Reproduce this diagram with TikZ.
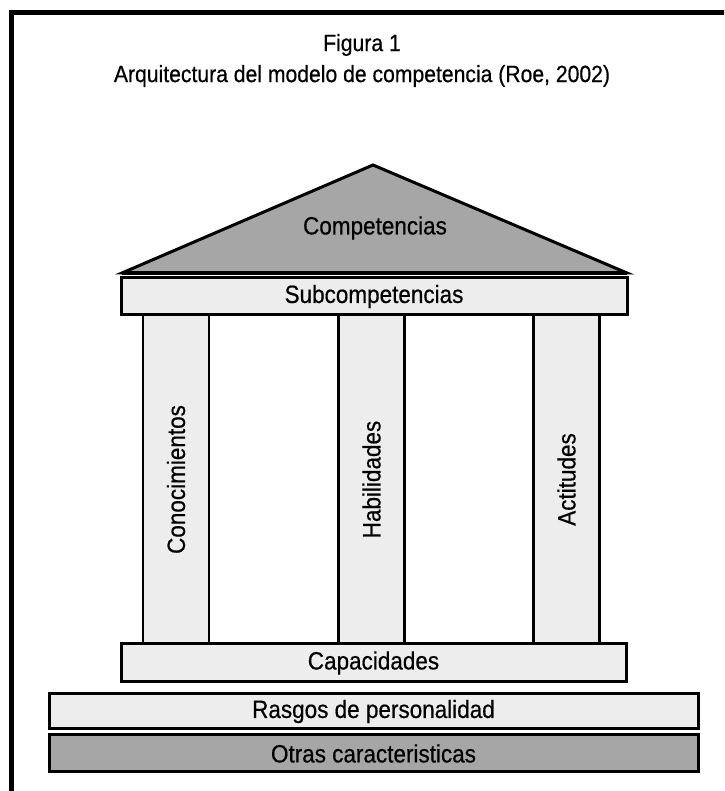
\documentclass[tikz,border=0pt]{standalone}
\usepackage{fontspec}
\setmainfont{Liberation Sans}[FakeStretch=0.9,FakeBold=0.5]
\usetikzlibrary{positioning}
\definecolor{claro}{HTML}{EDEDED}
\definecolor{oscuro}{HTML}{A6A6A6}
\tikzset{
    %Define style for the horizontal bars
    barra/.style={
           rectangle,
           draw=black, line width=3pt,
           fill=claro,
           inner sep=0pt,
           font=\fontsize{25}{27}\selectfont},
    %Define style for the columns (rotated)
    columna/.style={
           rectangle,
           rotate=90,
           draw=black, line width=2.5pt,
           fill=claro,
           inner sep=0pt,
           minimum width=329pt,
           minimum height=66pt,
           font=\fontsize{25}{27}\selectfont},
    % Define roof style
    techo/.style={
           draw=black,
           line width=3pt,
           line join=miter,
           fill=oscuro}
}

\begin{document}
\begin{tikzpicture}[x=1pt,y=1pt,font=\fontsize{25}{27}\selectfont]
 \useasboundingbox (0,0) rectangle (724,791);
 \clip (0,0) rectangle (724,791);
 %Frame
 \draw[line width=5pt] (11,-30) rectangle (760,778);

 %Title
 \node[font=\fontsize{23.5}{26}\selectfont] (fig) at (362,746) {Figura 1};
 \node[font=\fontsize{23.5}{26}\selectfont] (titulo) at (362,715) {Arquitectura del modelo de competencia (Roe, 2002)};

 %Roof
 \coordinate (izq) at (122,518);
 \coordinate (cima) at (373,626);
 \coordinate (der) at (627,518);
 \draw[techo] (izq) -- (cima) -- (der) -- cycle;
 \draw[line width=4pt] (izq) -- (der);
 \node (comp) at (375,563) {Competencias};

 %Temple
 \node[barra,minimum width=506pt,minimum height=37pt] (sub) at (374,494.5) {Subcompetencias};
 \node[columna] (con) at (176,311.5) {Conocimientos};
 \node[columna] (hab) at (371.5,311.5) {Habilidades};
 \node[columna] (act) at (566.5,311.5) {Actitudes};
 \node[barra,minimum width=505pt,minimum height=38pt] (cap) at (373.5,128) {Capacidades};

 %Base
 \node[barra,minimum width=649pt,minimum height=35pt,below=9pt of cap] (ras) {Rasgos de personalidad};
 \node[barra,minimum width=649pt,minimum height=37pt,below=3pt of ras,fill=oscuro] (otr) {Otras caracteristicas};
\end{tikzpicture}
\end{document}
